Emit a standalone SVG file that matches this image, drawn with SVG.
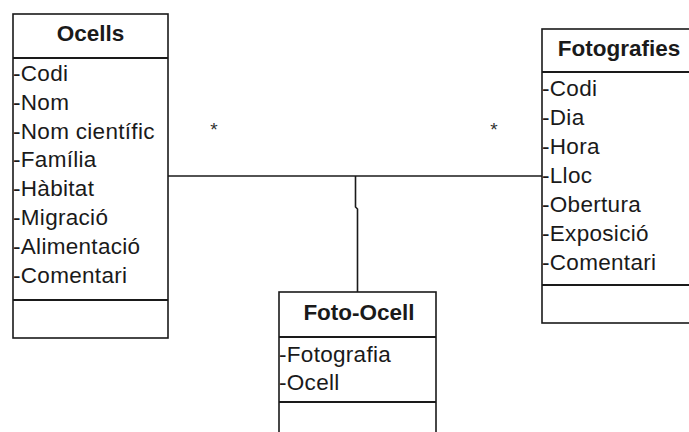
<svg xmlns="http://www.w3.org/2000/svg" width="689" height="432" viewBox="0 0 689 432">
<style>
.box{fill:#fff;stroke:#1a1a1a;stroke-width:1.6}
.div{stroke:#1a1a1a;stroke-width:2}
.t{font-family:"Liberation Sans",Arial,sans-serif;font-size:22.5px;font-weight:bold;fill:#1a1a1a;text-anchor:middle}
.a{font-family:"Liberation Sans",Arial,sans-serif;font-size:22.5px;fill:#1a1a1a;letter-spacing:0.3px}
.c{fill:none;stroke:#1a1a1a;stroke-width:1.6}
.m{font-family:"Liberation Sans",Arial,sans-serif;font-size:19px;fill:#333;text-anchor:middle}
</style>
<rect width="689" height="432" fill="#fff"/>
<g id="connectors">
<path class="c" d="M168,176 H542"/>
<path class="c" d="M355.5,176 V207 L357.5,209 V292"/>
<text class="m" x="214" y="136">*</text>
<text class="m" x="494" y="136">*</text>
</g>
<g id="ocells">
<rect class="box" x="13" y="14" width="155" height="324"/>
<line class="div" x1="13" y1="58" x2="168" y2="58"/>
<line class="div" x1="13" y1="300" x2="168" y2="300"/>
<text class="t" x="90.5" y="41">Ocells</text>
<text class="a" x="13" y="81">-Codi</text>
<text class="a" x="13" y="110">-Nom</text>
<text class="a" x="13" y="139">-Nom científic</text>
<text class="a" x="13" y="167">-Família</text>
<text class="a" x="13" y="196">-Hàbitat</text>
<text class="a" x="13" y="225">-Migració</text>
<text class="a" x="13" y="254">-Alimentació</text>
<text class="a" x="13" y="283">-Comentari</text>
</g>
<g id="fotografies">
<rect class="box" x="542" y="29" width="156" height="294"/>
<line class="div" x1="542" y1="72" x2="698" y2="72"/>
<line class="div" x1="542" y1="285" x2="698" y2="285"/>
<text class="t" x="619" y="56">Fotografies</text>
<text class="a" x="542" y="96">-Codi</text>
<text class="a" x="542" y="125">-Dia</text>
<text class="a" x="542" y="154">-Hora</text>
<text class="a" x="542" y="183">-Lloc</text>
<text class="a" x="542" y="212">-Obertura</text>
<text class="a" x="542" y="241">-Exposició</text>
<text class="a" x="542" y="270">-Comentari</text>
</g>
<g id="foto-ocell">
<rect class="box" x="279" y="292" width="157" height="160"/>
<line class="div" x1="279" y1="337" x2="436" y2="337"/>
<line class="div" x1="279" y1="402" x2="436" y2="402"/>
<text class="t" x="359" y="320">Foto-Ocell</text>
<text class="a" x="279" y="362">-Fotografia</text>
<text class="a" x="279" y="390">-Ocell</text>
</g>
</svg>
